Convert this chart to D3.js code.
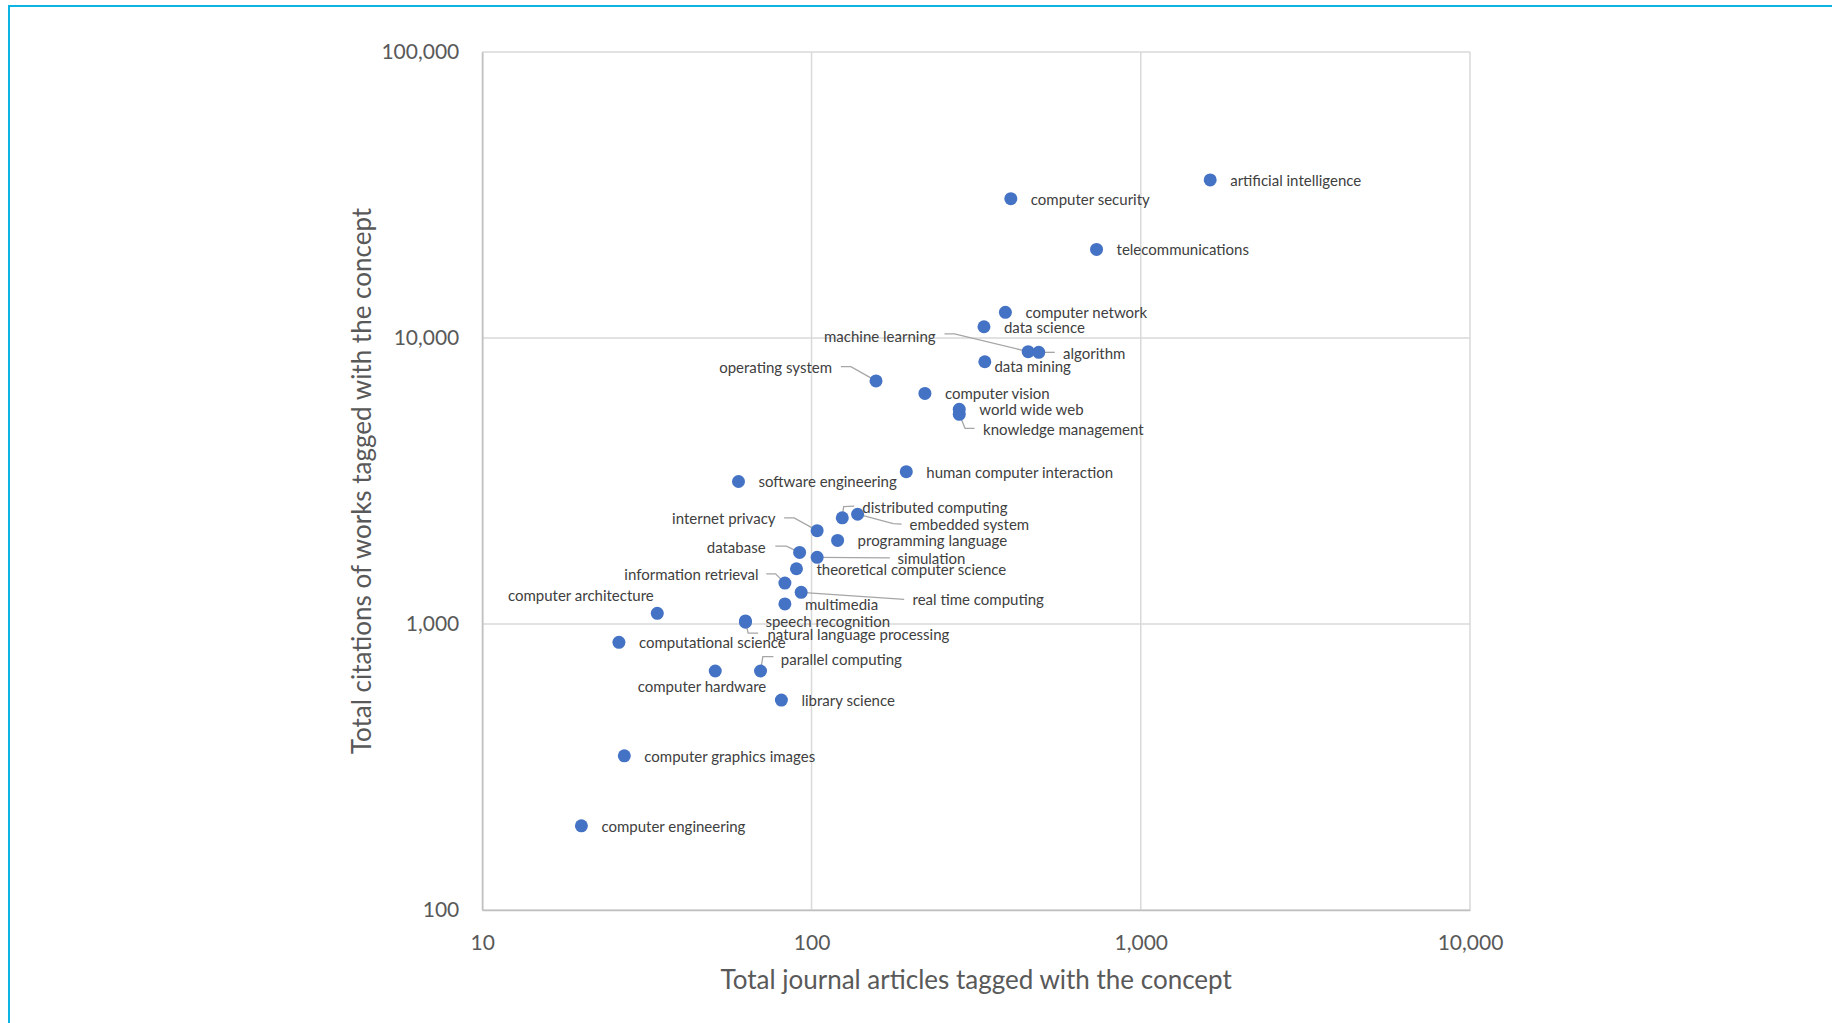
<!DOCTYPE html>
<html>
<head>
<meta charset="utf-8">
<script src="https://cdn.jsdelivr.net/npm/d3@7"></script>
<style>
  html, body { margin: 0; padding: 0; background: #fff; }
  svg { display: block; }
</style>
</head>
<body>
<svg id="chart" width="1832" height="1023"></svg>
<script>
// Concepts and their totals
const concepts = [
  "artificial intelligence", "computer security", "telecommunications", "computer network",
  "data science", "machine learning", "algorithm", "data mining", "operating system",
  "computer vision", "world wide web", "knowledge management", "human computer interaction",
  "software engineering", "embedded system", "distributed computing", "internet privacy",
  "programming language", "database", "simulation", "theoretical computer science",
  "information retrieval", "real time computing", "multimedia", "computer architecture",
  "speech recognition", "natural language processing", "computational science",
  "computer hardware", "parallel computing", "library science", "computer graphics images",
  "computer engineering"
];
const journalArticles = [
  1625, 403, 734, 388,
  334, 455, 490, 336, 157,
  221, 281, 281, 194,
  60, 138, 124, 104,
  120, 92, 104, 90,
  83, 93, 83, 34,
  63, 63, 26,
  51, 70, 81, 27,
  20
];
const totalCitations = [
  35700, 30700, 20400, 12300,
  10950, 8960, 8910, 8260, 7080,
  6400, 5630, 5410, 3410,
  3150, 2420, 2350, 2120,
  1960, 1780, 1710, 1560,
  1390, 1290, 1175, 1090,
  1025, 1015, 863,
  685, 685, 542, 346,
  197
];
const xTicks = [10, 100, 1000, 10000];
const yTicks = [100, 1000, 10000, 100000];
const xTitle = "Total journal articles tagged with the concept";
const yTitle = "Total citations of works tagged with the concept";

// Label placement: offset of the label from its point, anchor, and optional leader path
const labelLayout = {
  "machine learning":            { dx: -92.6, dy: -16,  anchor: "end",   leader: [[-83.7,-17.7],[-73.7,-17.7],[0,0]] },
  "operating system":            { dx: -44,   dy: -13.7, anchor: "end",  leader: [[-35.1,-14.3],[-25.1,-14.3],[0,0]] },
  "algorithm":                   { dx: 24.3,  dy: 0.4,  leader: [[0,0],[16,0]] },
  "data mining":                 { dx: 9.6,   dy: 4.3 },
  "knowledge management":        { dx: 23.8,  dy: 14.7, leader: [[0,0],[5.8,14],[15.3,14]] },
  "distributed computing":       { dx: 20,    dy: -10.7, leader: [[0,0],[1.3,-11.3],[12,-11.7]] },
  "embedded system":             { dx: 52,    dy: 10,   leader: [[0,0],[35.6,9.3],[44,9.8]] },
  "internet privacy":            { dx: -41.6, dy: -12.7, anchor: "end", leader: [[-33,-12.7],[-23,-12.7],[0,0]] },
  "database":                    { dx: -34,   dy: -5,   anchor: "end",  leader: [[-24.3,-6.3],[-13.3,-6.3],[0,0]] },
  "simulation":                  { dx: 80.4,  dy: 0.6,  leader: [[0,0],[72.7,0.6]] },
  "information retrieval":       { dx: -26.3, dy: -9.3, anchor: "end",  leader: [[-18.6,-9.3],[-9.3,-9.3],[0,0]] },
  "real time computing":         { dx: 111.4, dy: 7,    leader: [[0,0],[103,7]] },
  "natural language processing": { dx: 22,    dy: 12,   leader: [[0,0],[2.7,11],[12.7,11]] },
  "parallel computing":          { dx: 20.3,  dy: -12.3, leader: [[0,0],[2.3,-14.3],[12.9,-14.3]] },
  "computer architecture":       { dx: -3.5,  dy: -18.7, anchor: "end" },
  "computer hardware":           { dx: 51,    dy: 15,   anchor: "end" }
};

const FONT = "Lato, 'Open Sans', sans-serif";
const svg = d3.select("#chart");

// Frame around the sheet
svg.append("line").attr("x1", 9).attr("x2", 1832).attr("y1", 6).attr("y2", 6)
  .attr("stroke", "#0bb4e2").attr("stroke-width", 2);
svg.append("line").attr("x1", 9).attr("x2", 9).attr("y1", 5).attr("y2", 1023)
  .attr("stroke", "#0bb4e2").attr("stroke-width", 2);

const plot = { left: 482.3, right: 1470, top: 52, bottom: 910 };
const x = d3.scaleLog().domain([10, 10000]).range([plot.left, plot.right]);
const y = d3.scaleLog().domain([100, 100000]).range([plot.bottom, plot.top]);
const fmt = d3.format(",");

// Gridlines
const grid = svg.append("g");
grid.selectAll("line.v").data(xTicks).join("line")
  .attr("x1", d => x(d)).attr("x2", d => x(d))
  .attr("y1", plot.top).attr("y2", plot.bottom)
  .attr("stroke", "#d9d9d9").attr("stroke-width", 1.5);
grid.selectAll("line.h").data(yTicks).join("line")
  .attr("x1", plot.left).attr("x2", plot.right)
  .attr("y1", d => y(d)).attr("y2", d => y(d))
  .attr("stroke", "#d9d9d9").attr("stroke-width", 1.5);

// Axes
const xAxis = svg.append("g").attr("transform", `translate(0,${plot.bottom})`)
  .call(d3.axisBottom(x).tickValues(xTicks).tickFormat(fmt).tickSize(0).tickPadding(25));
xAxis.select(".domain").attr("stroke", "#bfbfbf").attr("stroke-width", 1.5);
xAxis.selectAll("text").attr("font-family", FONT).attr("font-size", 21).attr("fill", "#595959");

const yAxis = svg.append("g").attr("transform", `translate(${plot.left},0)`)
  .call(d3.axisLeft(y).tickValues(yTicks).tickFormat(fmt).tickSize(0).tickPadding(23));
yAxis.select(".domain").attr("stroke", "#bfbfbf").attr("stroke-width", 1.5);
yAxis.selectAll("text").attr("font-family", FONT).attr("font-size", 21).attr("fill", "#595959");

// Axis titles
svg.append("text").attr("x", (plot.left + plot.right) / 2).attr("y", 979)
  .attr("text-anchor", "middle").attr("dominant-baseline", "central")
  .attr("font-family", FONT).attr("font-size", 26).attr("fill", "#595959")
  .text(xTitle);
svg.append("text").attr("transform", `translate(361,${(plot.top + plot.bottom) / 2}) rotate(-90)`)
  .attr("text-anchor", "middle").attr("dominant-baseline", "central")
  .attr("font-family", FONT).attr("font-size", 26).attr("fill", "#595959")
  .text(yTitle);

const points = concepts.map((name, i) => ({
  name, articles: journalArticles[i], citations: totalCitations[i],
  layout: labelLayout[name] || { dx: 20, dy: 0 }
}));

// Leader lines
const line = d3.line();
svg.append("g").selectAll("path").data(points.filter(p => p.layout.leader)).join("path")
  .attr("d", p => line(p.layout.leader.map(([dx, dy]) => [x(p.articles) + dx, y(p.citations) + dy])))
  .attr("fill", "none").attr("stroke", "#a6a6a6").attr("stroke-width", 1.3);

// Points
svg.append("g").selectAll("circle").data(points).join("circle")
  .attr("cx", p => x(p.articles)).attr("cy", p => y(p.citations)).attr("r", 6.5)
  .attr("fill", "#4472c4");

// Labels
svg.append("g").selectAll("text").data(points).join("text")
  .attr("x", p => x(p.articles) + p.layout.dx)
  .attr("y", p => y(p.citations) + p.layout.dy)
  .attr("text-anchor", p => p.layout.anchor || "start")
  .attr("dominant-baseline", "central")
  .attr("font-family", FONT).attr("font-size", 15).attr("fill", "#404040")
  .text(p => p.name);
</script>
</body>
</html>
